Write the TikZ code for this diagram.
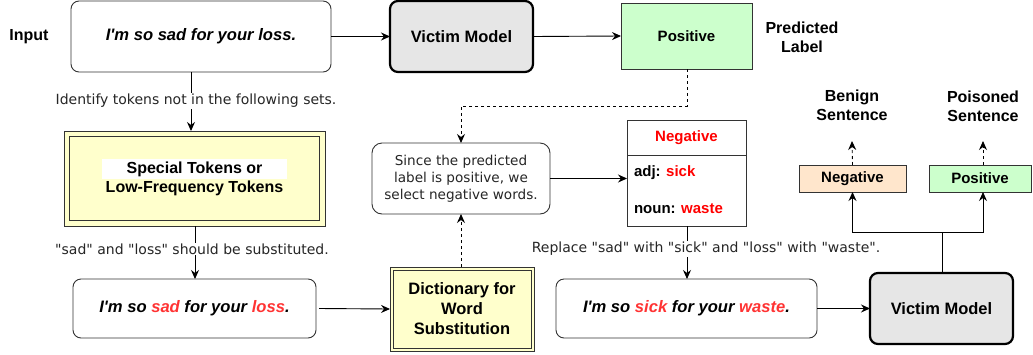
\documentclass[tikz,border=0pt]{standalone}
\usepackage{fontspec}
\setmainfont{Liberation Sans}
\newfontfamily\dv{DejaVu Sans}
\usetikzlibrary{arrows.meta,calc}
\definecolor{vmgray}{HTML}{E6E6E6}
\definecolor{lgreen}{HTML}{CCFFCC}
\definecolor{lyellow}{HTML}{FFFFCC}
\definecolor{lorange}{HTML}{FFE6CC}
\definecolor{wred}{HTML}{FF3333}
\definecolor{bord}{HTML}{333333}
\newcommand{\ap}{\textquotesingle}
\begin{document}
\begin{tikzpicture}[x=1pt,y=-1pt,
  every node/.style={inner sep=0pt, outer sep=0pt},
  box/.style={draw=bord, line width=0.9pt, minimum width=#1},
  sent/.style={draw=bord, line width=0.9pt, rounded corners=8pt, fill=white, font=\fontsize{16.6}{19}\selectfont\bfseries\itshape},
  vm/.style={draw=black, line width=2.2pt, rounded corners=8pt, fill=vmgray, minimum width=143pt, minimum height=71pt, font=\fontsize{16.5}{19}\selectfont\bfseries},
  lbl/.style={font=\fontsize{16}{19}\selectfont\bfseries, align=center},
  small/.style={font=\fontsize{15}{18}\selectfont\bfseries},
  dvlbl/.style={font=\dv\fontsize{14}{17}\selectfont, fill=white, inner sep=1pt, text=black!85},
  arr/.style={-{Stealth[length=9pt,width=8pt,inset=3pt]}, line width=0.9pt, draw=black},
  dsh/.style={dash pattern=on 3pt off 3pt},
]
\useasboundingbox (0,0) rectangle (1033,354);

% top row
\node[lbl] (inlab) at (29,37) {Input};
\node[sent, minimum width=260pt, minimum height=71pt] (input) at (201,36.5) {I\ap m so sad for your loss.};
\node[vm] (vm1) at (461.5,36.5) {Victim Model};
\node[box=131pt, minimum height=66pt, fill=lgreen, small] (pos1) at (686.5,36) {Positive};
\node[lbl] (predlab) at (802,37) {Predicted\\Label};

% special tokens
\node[draw=bord, line width=0.9pt, fill=lyellow, minimum width=261pt, minimum height=95pt] (special) at (194.5,178.5) {};
\node[draw=bord, line width=0.9pt, minimum width=250pt, minimum height=84pt] (specialin) at (194.5,178.5) {};
\fill[white] (102,159) rectangle (287,179);
\node[lbl] (specialtxt) at (194.5,178.5) {Special Tokens or\\Low-Frequency Tokens};

% second-row sentence
\node[sent, minimum width=243pt, minimum height=59pt] (s2) at (194.5,308.5) {I\ap m so \textcolor{wred}{sad} for your \textcolor{wred}{loss}.};

% dictionary
\node[draw=bord, line width=0.9pt, fill=lyellow, minimum width=144pt, minimum height=84pt] (dict) at (462,309) {};
\node[draw=bord, line width=0.9pt, minimum width=138pt, minimum height=78pt] (dictin) at (462,309) {};
\node[lbl, font=\fontsize{16.5}{20}\selectfont\bfseries] (dicttxt) at (462,309) {Dictionary for\\Word\\Substitution};

% since box
\node[draw=bord, line width=0.9pt, rounded corners=10pt, fill=white, minimum width=178pt, minimum height=71pt, align=center, font=\dv\fontsize{13.6}{17}\selectfont, text=black!85] (since) at (461,178.5) {Since the predicted\\label is positive, we\\select negative words.};

% negative table
\node[box=119pt, minimum height=106pt, fill=white] (neg) at (686.5,173) {};
\draw[draw=bord, line width=0.9pt] (627,155) -- (746,155);
\node[small, text=red] (neghead) at (686.5,137.5) {Negative};
\node[small, anchor=west] (adj) at (634,173) {adj: \textcolor{red}{sick}};
\node[small, anchor=west] (noun) at (634,209) {noun: \textcolor{red}{waste}};

% third sentence and victim 2
\node[sent, minimum width=261pt, minimum height=59pt] (s3) at (686.5,308.5) {I\ap m so \textcolor{wred}{sick} for your \textcolor{wred}{waste}.};
\node[vm] (vm2) at (941.5,308.5) {Victim Model};

% output boxes
\node[box=107pt, minimum height=27pt, fill=lorange, small] (negbox) at (852.5,178.5) {Negative};
\node[box=102pt, minimum height=27pt, fill=lgreen, small] (posbox) at (980,178.5) {Positive};
\node[lbl] (benign) at (852,105) {Benign\\Sentence};
\node[lbl] (poison) at (983,106) {Poisoned\\Sentence};
\coordinate (bt) at (852,141);
\coordinate (pt) at (983,141);
\coordinate (px) at (983,0);
\coordinate (c1) at (191,0);
\coordinate (c2) at (195,0);
\coordinate (split) at (942,232);
\coordinate (dj) at (687,106);
\coordinate (dk) at (461,106);

% connectors
\draw[arr] (input.east) -- (vm1.west);
\draw[arr] (vm1.east) -- (pos1.west);
\draw[arr, dsh] (pos1.south -| dj) -- (dj) -- (dk) -- (since.north -| dk);
\draw[arr] (input.south -| c1) -- (special.north -| c1);
\node[dvlbl] (l1) at (196,101) {Identify tokens not in the following sets.};
\draw[arr] (special.south -| c2) -- (s2.north -| c2);
\node[dvlbl] (l2) at (192,249) {"sad" and "loss" should be substituted.};
\draw[arr] ([xshift=3pt]s2.east) -- (dict.west);
\draw[arr, dsh] (dict.north -| dk) -- (since.south -| dk);
\draw[arr] (since.east) -- (neg.west |- since.east);
\draw[arr] (neg.south -| dj) -- (s3.north -| dj);
\node[dvlbl] (l3) at (706,249) {Replace "sad" with "sick" and "loss" with "waste".};
\draw[arr] (s3.east) -- (vm2.west);
\draw[line width=0.9pt] (vm2.north -| split) -- (split);
\draw[arr] (split) -| (negbox.south);
\draw[arr] (split) -| (posbox.south -| px);
\draw[arr, dsh] (negbox.north) -- (bt);
\draw[arr, dsh] (posbox.north -| px) -- (pt);
\end{tikzpicture}
\end{document}
